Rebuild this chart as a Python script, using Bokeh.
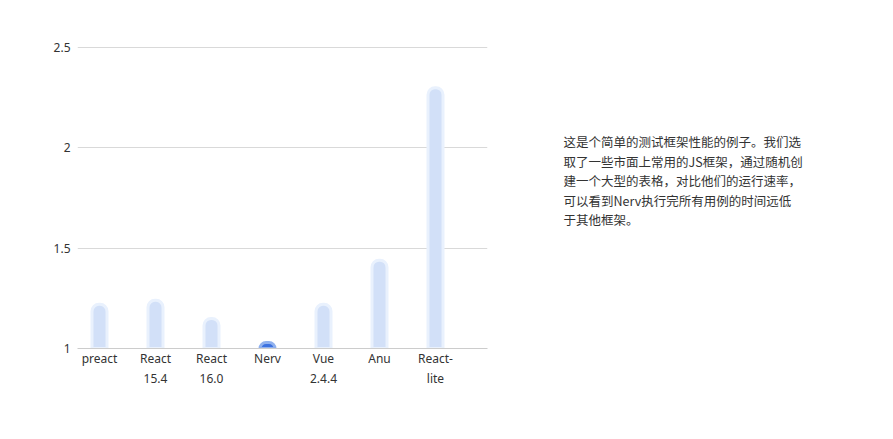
from bokeh.plotting import figure
from bokeh.layouts import row
from bokeh.models import Range1d, FixedTicker, ColumnDataSource
from bokeh.core.properties import value
from bokeh.embed import file_html
from bokeh.resources import INLINE

# ---- data ----
frameworks = ["preact", "React\n15.4", "React\n16.0", "Nerv", "Vue\n2.4.4", "Anu", "React-\nlite"]
times = [1.22, 1.24, 1.15, 1.03, 1.22, 1.44, 2.30]
highlight = "Nerv"
y_ticks = [1, 1.5, 2, 2.5]
y_tick_labels = ["1", "1.5", "2", "2.5"]
note_lines = [
    "这是个简单的测试框架性能的例子。我们选",
    "取了一些市面上常用的JS框架，通过随机创",
    "建一个大型的表格，对比他们的运行速率，",
    "可以看到Nerv执行完所有用例的时间远低",
    "于其他框架。",
]

H = 423
W1, W2 = 500, 377
FL, FR, FT, FB = 77, 13, 37, 75
frame_w = W1 - FL - FR
px_per_x = 56.0
x0 = -22.0 / px_per_x
x_range = Range1d(x0, x0 + frame_w / px_per_x)
y_range = Range1d(1, 2.55)

p = figure(width=W1, height=H, output_backend="svg", toolbar_location=None,
           x_range=x_range, y_range=y_range,
           min_border_left=FL, min_border_top=FT, min_border_right=FR, min_border_bottom=FB)
p.outline_line_color = None
p.background_fill_color = "white"
p.border_fill_color = "white"

xs = list(range(len(frameworks)))
fills = ["#3d72e0" if f == highlight else "#d2e0f8" for f in frameworks]
lines = ["#90b1ee" if f == highlight else "#e9f1fd" for f in frameworks]
src = ColumnDataSource(dict(x=xs, top=times, bottom=[0] * len(xs), fill=fills, line=lines))
p.vbar(x="x", top="top", bottom="bottom", width=15 / px_per_x, source=src,
       fill_color="fill", line_color="line", line_width=3,
       border_radius=(7, 7, 0, 0))

# x axis
p.xaxis.ticker = FixedTicker(ticks=xs)
p.xaxis.major_label_overrides = {i: f for i, f in enumerate(frameworks)}
p.xaxis.axis_line_color = "#cccccc"
p.xaxis.major_tick_line_color = None
p.xaxis.minor_tick_line_color = None
p.xaxis.major_tick_out = 0
p.xaxis.major_tick_in = 0
p.xaxis.major_label_standoff = 1
p.xaxis.major_label_text_font = "Noto Sans"
p.xaxis.major_label_text_font_size = "12px"
p.xaxis.major_label_text_color = "#333333"
p.xgrid.grid_line_color = None

# y axis
p.yaxis.ticker = FixedTicker(ticks=y_ticks)
p.yaxis.major_label_overrides = {t: l for t, l in zip(y_ticks, y_tick_labels)}
p.yaxis.axis_line_color = None
p.yaxis.major_tick_line_color = None
p.yaxis.minor_tick_line_color = None
p.yaxis.major_tick_out = 0
p.yaxis.major_tick_in = 0
p.yaxis.major_label_standoff = 7
p.yaxis.major_label_text_font = "Noto Sans"
p.yaxis.major_label_text_font_size = "12px"
p.yaxis.major_label_text_color = "#333333"
p.ygrid.grid_line_color = "#d9d9d9"

# note text panel on the right (pixel coordinate space; frame aligned with p's frame)
q = figure(width=W2, height=H, output_backend="svg", toolbar_location=None,
           x_range=Range1d(W1, W1 + W2), y_range=Range1d(H - FB, FT),
           min_border=0, x_axis_type=None, y_axis_type=None)
q.outline_line_color = None
q.grid.grid_line_color = None
text_left = 563
first_line = 141
line_gap = 19.5
q.text(x=[text_left] * len(note_lines),
       y=[first_line + i * line_gap for i in range(len(note_lines))],
       text=note_lines, text_font=value("Noto Sans CJK SC"), text_font_size="12.5px",
       text_color="#333333", text_baseline="middle", text_align="left")

layout = row(p, q, spacing=0)
open("out.html", "w").write(file_html(layout, INLINE))
